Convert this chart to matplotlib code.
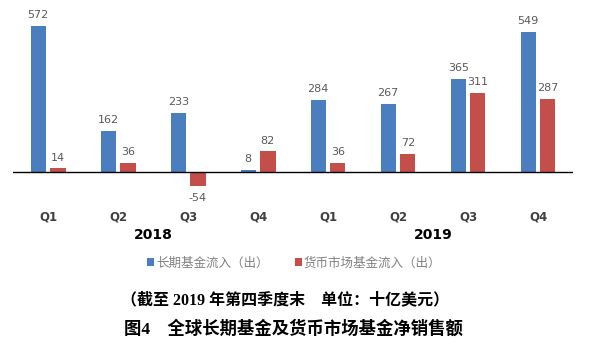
import numpy as np
import matplotlib
matplotlib.use("Agg")
from matplotlib import pyplot as plt
import matplotlib.transforms as mtransforms

plt.rcParams['font.family'] = ['DejaVu Sans', 'Noto Sans CJK SC']

# data (十亿美元)
quarters = ["Q1", "Q2", "Q3", "Q4", "Q1", "Q2", "Q3", "Q4"]
years = ["2018", "2019"]
long_term = [572, 162, 233, 8, 284, 267, 365, 549]
money_market = [14, 36, -54, 82, 36, 72, 311, 287]

blue = "#4a7ebf"
red = "#c44f4a"

fig = plt.figure(figsize=(5.92, 3.57), dpi=100)
# axes: pixel x 13..573, y 5..205
ax = fig.add_axes([13/592, 1 - 205/357, 560/592, 200/357])

x = np.arange(len(quarters))
w = 0.22
off = 0.14
b1 = ax.bar(x - off, long_term, w, color=blue)
b2 = ax.bar(x + off, money_market, w, color=red)

for xs, vals in ((x - off, long_term), (x + off, money_market)):
    for xi, v in zip(xs, vals):
        if v >= 0:
            ax.annotate(str(v), (xi, v), xytext=(0, 4), textcoords="offset points",
                        ha="center", va="bottom", fontsize=8, color="#595959")
        else:
            ax.annotate(str(v), (xi, v), xytext=(0, -5), textcoords="offset points",
                        ha="center", va="top", fontsize=8, color="#595959")

ax.axhline(0, color="black", lw=1)
ax.set_xlim(-0.5, len(quarters) - 0.5)
ax.set_ylim(-129, 654)
for s in ax.spines.values():
    s.set_visible(False)
ax.set_yticks([])
ax.set_xticks(x)
ax.set_xticklabels(quarters, fontsize=8.5, fontweight="bold", color="#404040")
ax.tick_params(axis="x", length=0, pad=4)

trans = mtransforms.blended_transform_factory(ax.transData, fig.transFigure)
ax.text(1.5, 1 - 235/357, years[0], transform=trans, ha="center", va="center",
        fontsize=10, fontweight="bold", color="black")
ax.text(5.5, 1 - 235/357, years[1], transform=trans, ha="center", va="center",
        fontsize=10, fontweight="bold", color="black")

# legend
leg = fig.legend([b1, b2], ["长期基金流入（出）", "货币市场基金流入（出）"],
                 loc="center", bbox_to_anchor=(294/592, 1 - 263/357), ncol=2,
                 frameon=False, handlelength=0.55, handleheight=0.55,
                 handletextpad=0.15, columnspacing=2.1,
                 prop={'family': ['Noto Sans CJK SC'], 'size': 9})
for t in leg.get_texts():
    t.set_color("#808080")

fig.text(285/592, 1 - 300/357, "（截至 2019 年第四季度末　单位：十亿美元）",
         ha="center", va="center", fontsize=11.5, fontweight="bold",
         family=['Liberation Serif', 'Noto Sans CJK SC'])
fig.text(293/592, 1 - 329/357, "图4　全球长期基金及货币市场基金净销售额",
         ha="center", va="center", fontsize=12.5, fontweight="bold",
         family=['Liberation Serif', 'Noto Sans CJK SC'])

fig.savefig("out.png", dpi=100, facecolor="white")
